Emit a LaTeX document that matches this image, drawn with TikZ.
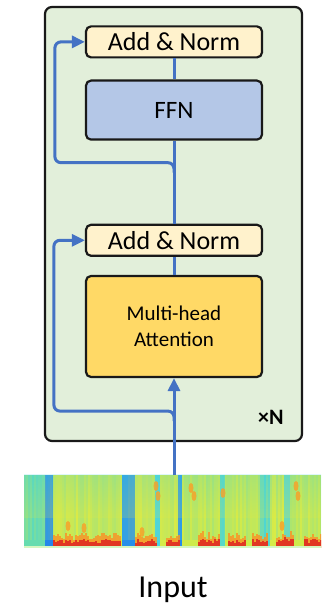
\documentclass[tikz,border=0pt]{standalone}
\usepackage{fontspec}
\setmainfont{Carlito}
\usetikzlibrary{arrows.meta, positioning, calc}

\definecolor{layerbg}{RGB}{226,239,218}
\definecolor{normfill}{RGB}{255,242,204}
\definecolor{ffnfill}{RGB}{180,199,231}
\definecolor{attfill}{RGB}{255,217,102}
\definecolor{flow}{RGB}{68,114,196}
\definecolor{specCyan}{RGB}{70,212,225}
\definecolor{specGreen}{RGB}{150,232,100}
\definecolor{specYel}{RGB}{236,236,60}
\definecolor{specBlue}{RGB}{30,120,235}
\definecolor{specRed}{RGB}{225,55,35}
\definecolor{specOrange}{RGB}{248,150,40}

\begin{document}
\begin{tikzpicture}[x=1pt,y=1pt,>={Triangle[length=13pt,width=12pt]},
	node distance=18pt,
	block/.style={draw=black!90,line width=2.2pt,rounded corners=5pt,minimum width=176pt,inner sep=0pt},
	norm node/.style={block,fill=normfill,minimum height=31pt,font=\fontsize{26}{30}\selectfont},
	ffn node/.style={block,fill=ffnfill,minimum height=59pt,font=\fontsize{25}{30}\selectfont},
	att node/.style={block,fill=attfill,minimum height=101pt,align=center,font=\fontsize{21}{26}\selectfont},
	flow line/.style={draw=flow,line width=3pt}]
	
	\useasboundingbox (0,0) rectangle (321,607);
	
	% encoder layer
	\node[block, fill=layerbg, minimum width=257pt, minimum height=434pt, rounded corners=7pt] (layer) at (173.5,383) {};
	\node[att node] (mha) at (174,280.5) {Multi-head\\Attention};
	\node[norm node] (an1) [above=18pt of mha] {Add \& Norm};
	\node[ffn node] (ffn) [above=83pt of an1] {FFN};
	\node[norm node] (an2) [above=21pt of ffn] {Add \& Norm};
	\node[font=\bfseries\fontsize{22}{26}\selectfont, anchor=base east] (rep) at ([xshift=-16pt,yshift=18pt]layer.south east) {×N};
	
	% spectrogram input
	\node[minimum width=297pt, minimum height=73pt, inner sep=0pt, outer sep=0pt] (spec) at (172.5,95.5) {};
	\begin{scope}
		\clip (spec.south west) rectangle (spec.north east);
		% base bands
		\foreach \x/\w/\c in {0/21/specCyan!60!specGreen, 21/8/specBlue!85!specCyan, 29/69/specYel!75!specGreen,
			98/13/specBlue!75!specCyan, 111/20/specYel!80!specGreen, 131/5/specCyan,
			136/18/specYel!75!specGreen, 154/4/specBlue!80!specCyan, 158/38/specYel!65!specGreen,
			196/5/specCyan!80!specGreen, 201/35/specYel!65!specGreen, 236/10/specCyan!85!specGreen,
			246/14/specYel!75!specGreen, 260/6/specCyan, 266/31/specYel!65!specGreen} {
			\fill[\c] ([xshift=\x pt]spec.south west) rectangle ++(\w,73);
		}
		% fine stripes
		\pgfmathsetseed{11}
		\foreach \i in {0,...,148} {
			\pgfmathsetmacro{\mix}{int(100*rnd)}
			\fill[specYel!\mix!specCyan, opacity=0.25] ([xshift=\i*2pt, yshift=8pt]spec.south west) rectangle ++(2,65);
		}
		\shade[top color=specCyan, bottom color=specYel, opacity=0.18] ([yshift=30pt]spec.south west) rectangle (spec.north east);
		% energy near the bottom
		\foreach \x/\w/\t in {29/66/4, 111/20/4, 142/12/4, 174/20/5, 204/16/4, 228/14/5, 252/16/8, 280/18/5} {
			\foreach \j in {0,2,...,\w} {
				\pgfmathsetmacro{\hr}{5+\t*rnd}
				\pgfmathsetmacro{\ho}{\hr+2+6*rnd}
				\fill[specOrange, opacity=0.85] ([xshift=\x pt+\j pt]spec.south west) rectangle ++(2,\ho);
				\fill[specRed] ([xshift=\x pt+\j pt]spec.south west) rectangle ++(2,\hr);
			}
		}
		\foreach \x/\y in {132/62, 134/52, 167/60, 170/52, 199/55, 272/62, 274/52, 44/22, 60/20, 118/16, 258/22} {
			\fill[specOrange!85!specYel, opacity=0.85] ([xshift=\x pt, yshift=\y pt]spec.south west) ellipse (2.5 and 5);
		}
		\fill[specGreen!40!white] (spec.south west) rectangle ++(297,1.5);
	\end{scope}
	\node[font=\fontsize{32}{36}\selectfont] (input) at (173,17) {Input};
	
	% connectors
	\draw[flow line,->] (mha.south |- spec.north) -- (mha.south);
	\draw[flow line] (mha.north) -- (an1.south);
	\draw[flow line] (an1.north) -- (ffn.south);
	\draw[flow line] (ffn.north) -- (an2.south);
	\coordinate (b1) at ([yshift=-33pt]mha.south);
	\coordinate (b2) at ([yshift=-22pt]ffn.south);
	\draw[flow line,->,rounded corners=6pt] ([yshift=-10pt]b1) -- (b1) -| ([xshift=-31pt]an1.west) -- (an1.west);
	\draw[flow line,->,rounded corners=6pt] ([yshift=-10pt]b2) -- (b2) -| ([xshift=-30pt]an2.west) -- (an2.west);
\end{tikzpicture}
\end{document}
